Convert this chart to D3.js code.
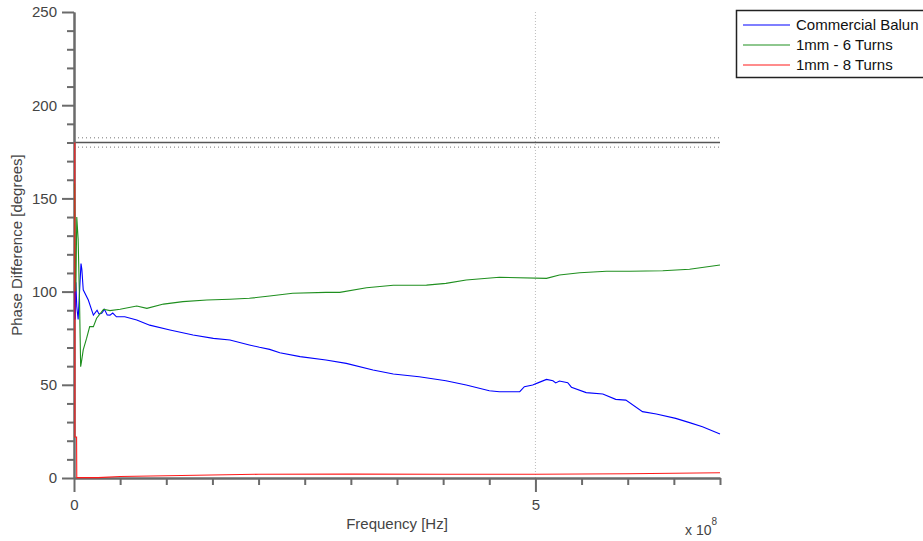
<!DOCTYPE html>
<html>
<head>
<meta charset="utf-8">
<script src="https://cdn.jsdelivr.net/npm/d3@7"></script>
<style>
  html, body { margin: 0; padding: 0; background: #fff; }
  svg { display: block; font-family: "Liberation Sans", Arial, sans-serif; }
</style>
</head>
<body>
<svg id="chart" width="923" height="541"></svg>
<script>
// Frequency in units of 10^8 Hz, phase difference in degrees
const seriesNames = ["Commercial Balun", "1mm - 6 Turns", "1mm - 8 Turns"];
const seriesColors = ["#0000ff", "#1f8f1f", "#ff1a1a"];

const balunFreq = [0.005, 0.012, 0.02, 0.03, 0.045, 0.06, 0.076, 0.085, 0.10, 0.155, 0.21, 0.25, 0.27, 0.30, 0.33, 0.36, 0.39, 0.42, 0.46, 0.55, 0.68, 0.82, 1.04, 1.29, 1.51, 1.69, 1.90, 2.01, 2.12, 2.23, 2.45, 2.73, 2.95, 3.24, 3.46, 3.74, 4.03, 4.25, 4.50, 4.61, 4.83, 4.88, 4.97, 5.04, 5.12, 5.19, 5.22, 5.26, 5.35, 5.39, 5.55, 5.73, 5.87, 5.98, 6.16, 6.31, 6.52, 6.67, 6.81, 7.0];
const balunPhase = [100, 85, 105, 92, 85, 100, 115, 112, 101, 95.5, 87.4, 90, 88, 88.4, 90.5, 87.5, 87.4, 88.5, 86.5, 86.5, 84.8, 82, 79.4, 76.7, 74.9, 74, 71.4, 70.1, 69, 67.2, 65.1, 63.3, 61.5, 57.9, 55.8, 54.3, 52.2, 49.9, 46.8, 46.3, 46.3, 49, 49.9, 51.3, 52.9, 52.2, 51, 52, 51.1, 48.7, 45.8, 45.1, 42.2, 41.8, 35.6, 34.3, 32.0, 29.7, 27.5, 23.6];

const sixTurnFreq = [0.005, 0.012, 0.02, 0.03, 0.045, 0.06, 0.072, 0.08, 0.10, 0.137, 0.17, 0.21, 0.245, 0.32, 0.39, 0.50, 0.68, 0.79, 0.97, 1.18, 1.44, 1.69, 1.90, 2.12, 2.37, 2.73, 2.88, 3.17, 3.46, 3.82, 4.03, 4.25, 4.61, 5.12, 5.26, 5.48, 5.77, 6.02, 6.38, 6.67, 7.0];
const sixTurnPhase = [158, 120, 100, 140, 128, 95, 59.7, 62, 68.7, 75, 81.2, 81.2, 85.7, 90.5, 89.8, 90.5, 92.3, 91, 93.3, 94.6, 95.5, 95.9, 96.4, 97.6, 99.1, 99.6, 99.6, 102.1, 103.4, 103.5, 104.4, 106.2, 107.7, 107.1, 108.9, 110.1, 110.9, 110.9, 111.2, 112, 114.3];

const eightTurnFreq = [0.009, 0.010, 0.028, 0.030, 0.26, 0.5, 1.0, 2.0, 3.0, 4.0, 5.0, 6.0, 7.0];
const eightTurnPhase = [180, 22, 22, 0.2, 0.2, 0.8, 1.2, 2.0, 2.1, 2.0, 2.0, 2.3, 2.8];

const xTickValues = [0, 5];
const yTickValues = [0, 50, 100, 150, 200, 250];
const refLevel = 180;      // solid reference line
const refBand = 2.5;       // dotted band either side
const xMarker = 5;         // dotted vertical marker

const series = [
  { name: seriesNames[0], color: seriesColors[0], freq: balunFreq, phase: balunPhase },
  { name: seriesNames[1], color: seriesColors[1], freq: sixTurnFreq, phase: sixTurnPhase },
  { name: seriesNames[2], color: seriesColors[2], freq: eightTurnFreq, phase: eightTurnPhase }
];

const svg = d3.select("#chart");
const plot = { left: 74, right: 720, top: 12, bottom: 478 };

const x = d3.scaleLinear().domain([0, 7]).range([plot.left, plot.right]);
const y = d3.scaleLinear().domain([0, 250]).range([plot.bottom, plot.top]);

const axisColor = "#6b6b6b";
const textColor = "#444";

// Reference lines and marker
const g = svg.append("g");
g.append("line")
  .attr("x1", x(xMarker)).attr("x2", x(xMarker))
  .attr("y1", y(250)).attr("y2", y(0))
  .attr("stroke", "#bdbdbd").attr("stroke-width", 1).attr("stroke-dasharray", "1,2");
[refLevel + refBand, refLevel - refBand].forEach(v => {
  g.append("line")
    .attr("x1", x(0)).attr("x2", x(7))
    .attr("y1", y(v)).attr("y2", y(v))
    .attr("stroke", "#777").attr("stroke-width", 1).attr("stroke-dasharray", "1,3");
});
g.append("line")
  .attr("x1", x(0)).attr("x2", x(7))
  .attr("y1", y(refLevel)).attr("y2", y(refLevel))
  .attr("stroke", "#555").attr("stroke-width", 1.5);

// Axes
function styleAxis(sel) {
  sel.select(".domain").attr("stroke", axisColor).attr("stroke-width", 2);
  sel.selectAll(".tick line").attr("stroke", axisColor).attr("stroke-width", 2);
  sel.selectAll(".tick text").attr("fill", textColor)
    .style("font-size", "15px").style("font-family", "'Liberation Sans', Arial, sans-serif");
}

// Minor ticks
const xMinor = d3.range(0, 7.01, 0.5).filter(v => !xTickValues.includes(v));
const yMinor = d3.range(0, 250.1, 10).filter(v => !yTickValues.includes(v));

const xAxisG = svg.append("g").attr("transform", `translate(0,${plot.bottom})`);
xAxisG.append("g").call(d3.axisBottom(x).tickValues(xMinor).tickSize(7).tickFormat("").tickSizeOuter(0))
  .call(styleAxis);
xAxisG.append("g").call(d3.axisBottom(x).tickValues(xTickValues).tickSize(14).tickPadding(7)
  .tickFormat(d3.format("d")).tickSizeOuter(0))
  .call(styleAxis);

const yAxisG = svg.append("g").attr("transform", `translate(${plot.left},0)`);
yAxisG.append("g").call(d3.axisLeft(y).tickValues(yMinor).tickSize(7).tickFormat("").tickSizeOuter(0))
  .call(styleAxis);
yAxisG.append("g").call(d3.axisLeft(y).tickValues(yTickValues).tickSize(12).tickPadding(5).tickSizeOuter(0))
  .call(styleAxis);

// Series lines, drawn over the axes
const line = d3.line().x(d => x(d[0])).y(d => y(d[1]));
series.forEach(s => {
  const pts = s.freq.map((f, i) => [f, s.phase[i]]);
  svg.append("path")
    .datum(pts)
    .attr("d", line)
    .attr("fill", "none")
    .attr("stroke", s.color)
    .attr("stroke-width", 1.1);
});

// Axis titles
svg.append("text")
  .attr("x", (plot.left + plot.right) / 2).attr("y", 529)
  .attr("text-anchor", "middle")
  .attr("fill", textColor).style("font-size", "15px")
  .text("Frequency [Hz]");

const expo = svg.append("text")
  .attr("x", 685).attr("y", 535)
  .attr("fill", textColor).style("font-size", "14px");
expo.append("tspan").text("x 10");
expo.append("tspan").attr("dy", -10).style("font-size", "10px").text("8");

svg.append("text")
  .attr("transform", `translate(22,${(plot.top + plot.bottom) / 2}) rotate(-90)`)
  .attr("text-anchor", "middle")
  .attr("fill", textColor).style("font-size", "15px")
  .text("Phase Difference [degrees]");

// Legend
const legend = svg.append("g");
legend.append("rect")
  .attr("x", 736.5).attr("y", 10.5).attr("width", 200).attr("height", 67)
  .attr("fill", "#fff").attr("stroke", "#222").attr("stroke-width", 1.5);
series.forEach((s, i) => {
  const yy = 25 + i * 20;
  legend.append("line")
    .attr("x1", 743).attr("x2", 790).attr("y1", yy).attr("y2", yy)
    .attr("stroke", s.color).attr("stroke-width", 1.1);
  legend.append("text")
    .attr("x", 796).attr("y", yy + 5)
    .attr("fill", "#111").style("font-size", "15px")
    .text(s.name);
});
</script>
</body>
</html>
